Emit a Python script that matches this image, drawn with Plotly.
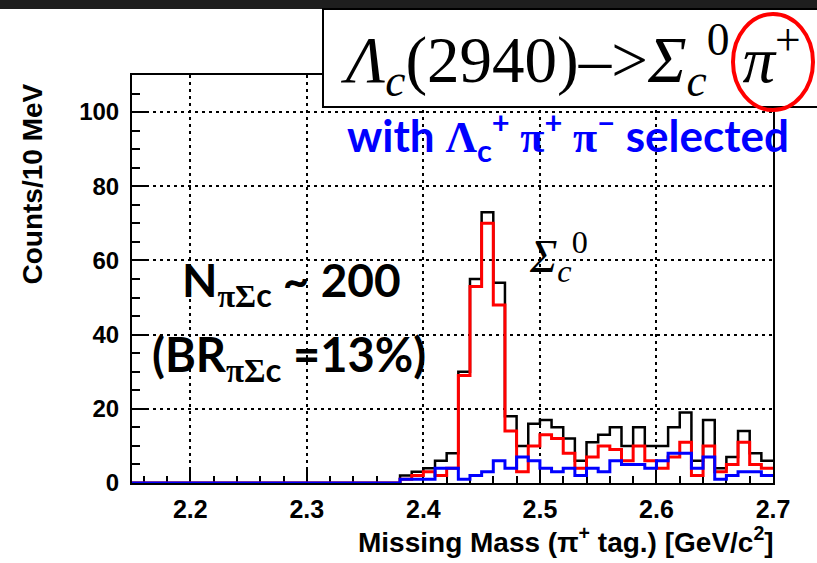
import numpy as np
import plotly.graph_objects as go

# ---- binning: 10 MeV bins of missing mass, 2.15 - 2.70 GeV/c^2 ----
BIN_LO = 2.15
BIN_W = 0.01
N_BINS = 55
edges = np.round(BIN_LO + BIN_W * np.arange(N_BINS + 1), 2)

# ---- counts per bin (bins 2.15 .. 2.69) ----
total_counts = [0, 0, 0, 0, 0, 0, 0, 0, 0, 0, 0, 0, 0, 0, 0, 0, 0, 0, 0, 0, 0, 0, 0,
                2, 3, 4, 6, 8, 30, 55, 73, 54, 18, 10, 16, 17, 15, 12, 6, 11, 13,
                15, 10, 15, 10, 10, 15, 19, 6, 17, 4, 7, 14, 8, 6]
sigma_c0_counts = [0, 0, 0, 0, 0, 0, 0, 0, 0, 0, 0, 0, 0, 0, 0, 0, 0, 0, 0, 0, 0, 0, 0,
                   1, 2, 3, 2, 4, 29, 53, 70, 48, 14, 3, 10, 13, 12, 8, 4, 7, 10,
                   9, 6, 10, 6, 4, 7, 11, 2, 10, 3, 5, 11, 5, 4]
other_counts = [0, 0, 0, 0, 0, 0, 0, 0, 0, 0, 0, 0, 0, 0, 0, 0, 0, 0, 0, 0, 0, 0, 0,
                1, 1, 1, 4, 4, 1, 2, 3, 6, 4, 7, 6, 4, 3, 4, 2, 4, 3,
                6, 5, 5, 4, 6, 8, 8, 4, 7, 1, 2, 3, 3, 2]

X_RANGE = [2.15, 2.70]
Y_RANGE = [0, 110]

# ---- page geometry (pixels) ----
W, H = 817, 563
L, R, T, B = 132, 44, 75, 80
PW, PH = W - L - R, H - T - B


def xp(px):
    return (px - L) / PW


def yp(py):
    return (H - B - py) / PH


def step_trace(counts, color, width):
    y = list(counts) + [counts[-1]]
    return go.Scatter(
        x=edges, y=y, mode="lines",
        line=dict(color=color, width=width, shape="hv"),
        cliponaxis=False, hoverinfo="skip", showlegend=False,
    )


fig = go.Figure()
fig.add_trace(step_trace(total_counts, "black", 2.5))
fig.add_trace(step_trace(sigma_c0_counts, "#ff0000", 3))
fig.add_trace(step_trace(other_counts, "#0000ff", 3))

common = dict(
    showline=True, linecolor="black", linewidth=2, mirror=True,
    ticks="inside", tickcolor="black", tickwidth=2,
    showgrid=True, gridcolor="black", gridwidth=2, griddash="3px,4px",
    zeroline=False, layer="below traces", fixedrange=True,
)

fig.update_xaxes(
    range=X_RANGE, tickmode="linear", tick0=2.2, dtick=0.1, tickformat=".1f",
    ticklen=13, ticklabelstandoff=3,
    tickfont=dict(family="Liberation Sans", size=25, color="black", weight="bold"),
    minor=dict(ticks="inside", ticklen=7, tick0=2.2, dtick=0.02,
               tickcolor="black", tickwidth=2, showgrid=False),
    **common,
)
fig.update_yaxes(
    range=Y_RANGE, tickmode="linear", tick0=0, dtick=20,
    ticklen=14, ticklabelstandoff=6,
    tickfont=dict(family="Liberation Sans", size=24, color="black", weight="bold"),
    minor=dict(ticks="inside", ticklen=8, tick0=0, dtick=5,
               tickcolor="black", tickwidth=2, showgrid=False),
    **common,
)

shapes = [
    # dark strip along the top of the page
    dict(type="rect", xref="paper", yref="paper",
         x0=xp(-5), x1=xp(W + 5), y0=yp(9), y1=yp(-5),
         fillcolor="#1e1e1e", line=dict(width=0), layer="above"),
    # title box
    dict(type="rect", xref="paper", yref="paper",
         x0=xp(323), x1=xp(W + 20), y0=yp(107), y1=yp(9),
         fillcolor="white", line=dict(color="black", width=2), layer="above"),
    # red ring around the pion
    dict(type="circle", xref="paper", yref="paper",
         x0=xp(733), x1=xp(813), y0=yp(110), y1=yp(14),
         fillcolor="rgba(0,0,0,0)", line=dict(color="#ff0000", width=4),
         layer="above"),
]

serif = "Liberation Serif"
sans_b = "Lato"
SERIF_SPAN = "<span style='font-family:Liberation Serif'>"

annotations = [
    # title
    dict(text="<i>Λ</i><sub><i>c</i></sub>(2940)–><i>Σ</i><sub><i>c</i></sub>"
              "<sup>0</sup>\u2009<i>π</i><sup>+</sup>",
         x=xp(338), y=yp(60), xanchor="left", yanchor="middle",
         font=dict(family=serif, size=65, color="black")),
    # selection note
    dict(text="with " + SERIF_SPAN + "Λ</span><sub>c</sub><sup>+</sup> "
              + SERIF_SPAN + "π</span><sup>+</sup> "
              + SERIF_SPAN + "π</span><sup>−</sup> selected",
         x=xp(345), y=yp(136), xanchor="left", yanchor="middle",
         font=dict(family=sans_b, size=44, color="#0000ff", weight="bold")),
    # peak label
    dict(text="<i>Σ</i><sub><i>c</i></sub><sup>0</sup>",
         x=xp(527), y=yp(256), xanchor="left", yanchor="middle",
         font=dict(family=serif, size=46, color="black")),
    # yield
    dict(text="N<sub>" + SERIF_SPAN + "πΣ</span>c</sub> ~ 200",
         x=xp(180), y=yp(283), xanchor="left", yanchor="middle",
         font=dict(family=sans_b, size=46, color="black", weight="bold")),
    dict(text="(BR<sub>" + SERIF_SPAN + "πΣ</span>c</sub> =13%)",
         x=xp(150), y=yp(357), xanchor="left", yanchor="middle",
         font=dict(family=sans_b, size=47, color="black", weight="bold")),
    # axis titles
    dict(text="Missing Mass (π<sup>+</sup> tag.) [GeV/c<sup>2</sup>]",
         x=xp(776), y=yp(540), xanchor="right", yanchor="middle",
         font=dict(family="Liberation Sans", size=28, color="black", weight="bold")),
    dict(text="Counts/10 MeV", textangle=-90,
         x=xp(32), y=yp(82), xanchor="center", yanchor="top",
         font=dict(family="Liberation Sans", size=28, color="black", weight="bold")),
]
for a in annotations:
    a.update(xref="paper", yref="paper", showarrow=False)

fig.update_layout(
    width=W, height=H,
    margin=dict(l=L, r=R, t=T, b=B),
    paper_bgcolor="white", plot_bgcolor="white",
    shapes=shapes, annotations=annotations,
    showlegend=False,
)

fig.write_html("out.html")
